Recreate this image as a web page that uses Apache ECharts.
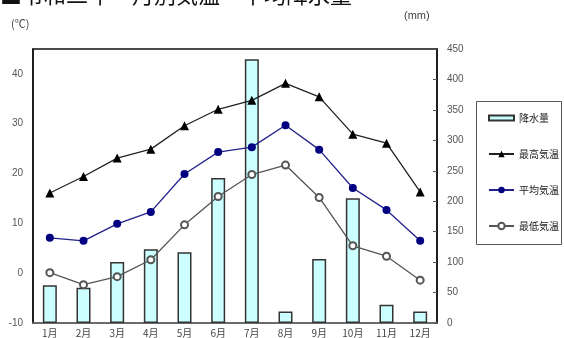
<!DOCTYPE html>
<html lang="ja">
  <head>
    <meta charset="UTF-8" />
    <title>月別気温・降水量</title>
    <script src="https://cdn.jsdelivr.net/npm/echarts@6/dist/echarts.min.js"></script>
    <style>
      html, body { margin: 0; padding: 0; background: #fff; }
      #box { width: 564px; height: 338px; }
    </style>
  </head>
  <body>
    <div id="box"></div>
    <script>
      // 月と各系列のデータ
      var months = ["1月", "2月", "3月", "4月", "5月", "6月", "7月", "8月", "9月", "10月", "11月", "12月"];
      var rain = [62, 58, 100, 121, 116, 238, 433, 19, 105, 205, 30, 19];
      var tempMax = [16.1, 19.4, 23.1, 24.9, 29.6, 32.9, 34.7, 38.1, 35.4, 27.9, 26.1, 16.3];
      var tempAvg = [7.1, 6.5, 9.9, 12.3, 19.9, 24.3, 25.3, 29.7, 24.8, 17.1, 12.7, 6.5];
      var tempMin = [0.1, -2.3, -0.7, 2.7, 9.7, 15.4, 19.8, 21.7, 15.2, 5.5, 3.4, -1.4];
      var tempTicks = [-10, 0, 10, 20, 30, 40];

      var jp = '"Noto Sans CJK JP", sans-serif';
      var num = '"Liberation Sans", Arial, sans-serif';

      var chart = echarts.init(document.getElementById("box"));
      chart.setOption({
        animation: false,
        textStyle: { fontFamily: jp },
        grid: {
          left: 33, right: 127, top: 49, bottom: 15,
          show: true, borderColor: "#111", borderWidth: 1.5
        },
        graphic: [
          { type: "text", left: 0, top: -16,
            style: { text: "■令和二年　月別気温・平均降水量", font: "22px " + jp, fill: "#111" } },
          { type: "text", left: 11, top: 18,
            style: { text: "(℃)", font: "11px " + jp, fill: "#444" } },
          { type: "text", left: 404, top: 10,
            style: { text: "(mm)", font: "11px " + num, fill: "#444" } },
          { type: "rect", shape: { x: 476.5, y: 101.5, width: 85, height: 143 },
            style: { fill: "none", stroke: "#555", lineWidth: 1 } }
        ],
        legend: {
          orient: "vertical",
          left: 483, top: 108,
          itemWidth: 25, itemHeight: 8, itemGap: 26,
          textStyle: { fontSize: 10, color: "#222", fontFamily: jp },
          data: [
            { name: "降水量", icon: "path://M0,0 H25 V5 H0 Z" },
            { name: "最高気温" },
            { name: "平均気温" },
            { name: "最低気温" }
          ]
        },
        xAxis: {
          type: "category",
          data: months,
          axisLine: { onZero: false, lineStyle: { color: "#777", width: 1.5 } },
          axisTick: { inside: true, length: 3, lineStyle: { color: "#777" } },
          axisLabel: { color: "#444", fontSize: 10, margin: 5, fontFamily: jp }
        },
        yAxis: [
          {
            type: "value", min: -10, max: 45, interval: 10,
            splitLine: { show: false },
            axisLine: { show: true, lineStyle: { color: "#111", width: 1.5 } },
            axisTick: { show: false },
            axisLabel: {
              color: "#555", fontSize: 10, margin: 10, fontFamily: num,
              formatter: function (v) { return tempTicks.indexOf(v) >= 0 ? v : ""; }
            }
          },
          {
            type: "value", min: 0, max: 450, interval: 50,
            splitLine: { show: false },
            axisLine: { show: true, lineStyle: { color: "#111", width: 1.5 } },
            axisTick: { show: true, inside: true, length: 4, lineStyle: { color: "#555" } },
            axisLabel: { color: "#555", fontSize: 10, margin: 10, fontFamily: num }
          }
        ],
        series: [
          {
            name: "降水量", type: "bar", yAxisIndex: 1, data: rain, barWidth: 14,
            itemStyle: { color: "#ccffff", borderColor: "#333", borderWidth: 1.5 }
          },
          {
            name: "最高気温", type: "line", data: tempMax,
            symbol: "triangle", symbolSize: 9,
            lineStyle: { color: "#222", width: 1.3 },
            itemStyle: { color: "#000" }
          },
          {
            name: "平均気温", type: "line", data: tempAvg,
            symbol: "circle", symbolSize: 8,
            lineStyle: { color: "#22228a", width: 1.3 },
            itemStyle: { color: "#000080" }
          },
          {
            name: "最低気温", type: "line", data: tempMin,
            symbol: "emptyCircle", symbolSize: 7,
            lineStyle: { color: "#555", width: 1.3 },
            itemStyle: { color: "#555", borderWidth: 1.1 }
          }
        ]
      });
    </script>
  </body>
</html>
